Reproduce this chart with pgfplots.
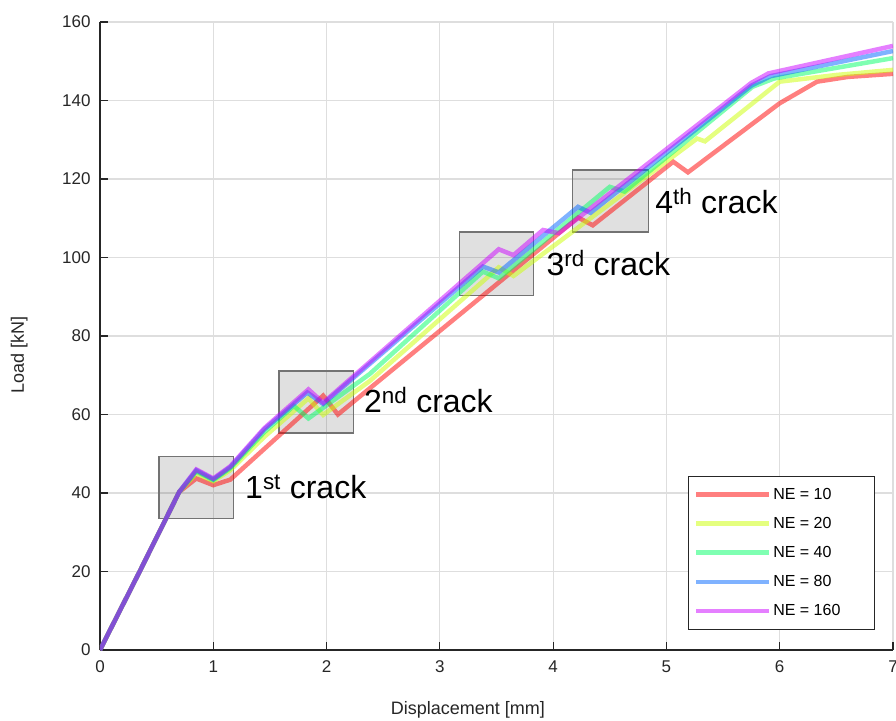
\documentclass[border=0pt]{standalone}
\usepackage{fontspec}
\setmainfont{Liberation Sans}
\usepackage{pgfplots}
\pgfplotsset{compat=1.18}
\definecolor{cRed}{rgb}{1,0,0}
\definecolor{cYel}{rgb}{0.8,1,0}
\definecolor{cGrn}{rgb}{0,1,0.4}
\definecolor{cBlu}{rgb}{0,0.4,1}
\definecolor{cMag}{rgb}{0.8,0,1}
\definecolor{txt}{HTML}{262626}
\definecolor{gridc}{HTML}{DEDEDE}
\begin{document}
\begin{tikzpicture}
\path[use as bounding box] (0,0) rectangle (896pt,720pt);
\begin{axis}[
  at={(100pt,70pt)}, anchor=south west,
  scale only axis, width=793pt, height=628pt,
  xmin=0, xmax=7, ymin=0, ymax=160,
  xtick={0,1,...,7}, ytick={0,20,...,160},
  axis x line*=bottom, axis y line*=left,
  axis line style={draw=txt, line width=1.2pt},
  tick align=inside, major tick length=8pt,
  tick style={draw=txt, line width=1.1pt},
  grid=major, grid style={draw=gridc, line width=1.1pt},
  /pgf/number format/assume math mode=true,
  ticklabel style={font=\fontsize{17}{20}\selectfont, text=txt},
  xticklabel style={yshift=-7pt},
  yticklabel style={xshift=-6pt},
  every axis x label/.style={at={(axis description cs:0.464,-0.096)}, anchor=center, font=\fontsize{18}{21}\selectfont, text=txt},
  every axis y label/.style={at={(axis description cs:-0.102,0.47)}, rotate=90, anchor=center, font=\fontsize{18}{21}\selectfont, text=txt},
  xlabel={Displacement [mm]}, ylabel={Load [kN]},
  legend style={at={(0.977,0.032)}, anchor=south east, draw=txt, line width=1pt, fill=white,
    font=\fontsize{16}{19}\selectfont, row sep=12.5pt, inner xsep=5pt, inner ysep=10pt},
  legend cell align=left,
  legend image code/.code={\draw[#1] (0pt,0pt) -- (73pt,0pt);},
  every axis plot/.append style={line width=4.5pt, opacity=0.5, line join=miter, mark=none},
]
% crack boxes
\draw[fill=black, fill opacity=0.12, draw=black!55, line width=1.2pt] (axis cs:0.52,33.6) rectangle (axis cs:1.18,49.4);
\draw[fill=black, fill opacity=0.12, draw=black!55, line width=1.2pt] (axis cs:1.58,55.3) rectangle (axis cs:2.24,71.1);
\draw[fill=black, fill opacity=0.12, draw=black!55, line width=1.2pt] (axis cs:3.17,90.4) rectangle (axis cs:3.83,106.5);
\draw[fill=black, fill opacity=0.12, draw=black!55, line width=1.2pt] (axis cs:4.17,106.5) rectangle (axis cs:4.84,122.3);

\addplot[cRed] coordinates {(0,0) (0.35,20) (0.70,40.3) (0.85,43.7) (1.0,42.0) (1.15,43.4) (1.97,64.8) (2.1,60.0) (4.22,110.2) (4.35,108.2) (5.06,124.4) (5.19,121.7) (6.0,139.3) (6.33,144.8) (6.6,146.0) (7.0,146.8)};
\addlegendentry{\makebox[94pt][l]{NE = 10}}
\addplot[cYel] coordinates {(0,0) (0.35,20) (0.70,40.3) (0.85,45.0) (1.0,43.0) (1.15,45.8) (1.45,54.3) (1.84,64.1) (1.97,59.9) (2.38,68.5) (3.52,97.5) (3.65,95.3) (5.27,130.3) (5.34,129.6) (6.0,144.8) (6.5,146.5) (7.0,147.8)};
\addlegendentry{NE = 20}
\addplot[cGrn] coordinates {(0,0) (0.35,20) (0.70,40.3) (0.85,45.5) (1.0,43.3) (1.15,46.3) (1.45,55.5) (1.71,62.2) (1.84,59.0) (2.38,70.3) (3.38,96.4) (3.52,94.7) (4.5,118.0) (4.63,116.8) (5.76,143.5) (5.95,145.6) (7.0,150.8)};
\addlegendentry{NE = 40}
\addplot[cBlu] coordinates {(0,0) (0.35,20) (0.70,40.3) (0.85,45.8) (1.0,43.5) (1.15,46.6) (1.45,56.2) (1.83,65.6) (1.97,62.7) (3.38,97.7) (3.52,96.2) (4.22,112.9) (4.33,111.4) (5.75,143.8) (5.92,146.2) (7.0,152.6)};
\addlegendentry{NE = 80}
\addplot[cMag] coordinates {(0,0) (0.35,20) (0.70,40.3) (0.85,46.0) (1.0,43.7) (1.15,46.8) (1.45,56.5) (1.84,66.4) (1.97,63.0) (3.52,102.1) (3.65,100.6) (3.91,107.0) (4.05,106.2) (5.75,144.5) (5.9,146.9) (7.0,153.9)};
\addlegendentry{NE = 160}

\node[anchor=base west, inner sep=0pt, font=\fontsize{32}{38}\selectfont] at (axis cs:1.28,38.7) {1\textsuperscript{st} crack};
\node[anchor=base west, inner sep=0pt, font=\fontsize{32}{38}\selectfont] at (axis cs:2.33,60.6) {2\textsuperscript{nd} crack};
\node[anchor=base west, inner sep=0pt, font=\fontsize{32}{38}\selectfont] at (axis cs:3.94,95.5) {3\textsuperscript{rd} crack};
\node[anchor=base west, inner sep=0pt, font=\fontsize{32}{38}\selectfont] at (axis cs:4.90,111.3) {4\textsuperscript{th} crack};
\end{axis}
\end{tikzpicture}
\end{document}
